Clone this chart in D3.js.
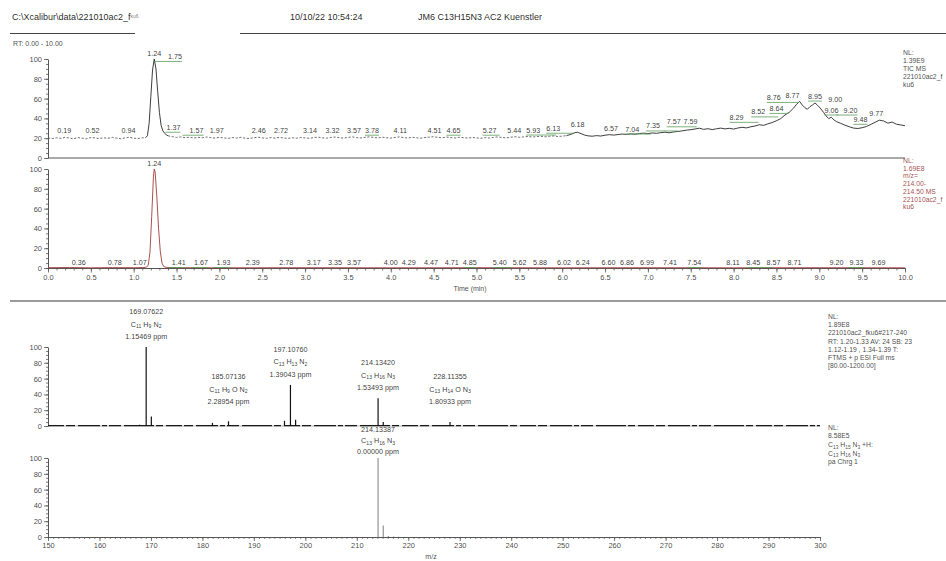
<!DOCTYPE html>
<html>
<head>
<meta charset="utf-8">
<script src="https://cdn.jsdelivr.net/npm/d3@7"></script>
<style>
  body { margin: 0; background: #fff; }
  svg { display: block; font-family: "Liberation Sans", Arial, sans-serif; }
  svg text { fill-opacity: 0.99; }
</style>
</head>
<body>
<svg id="chart" width="946" height="561"></svg>
<script>
// ---------------- Data ----------------
const rtTicks  = [0, 0.5, 1, 1.5, 2, 2.5, 3, 3.5, 4, 4.5, 5, 5.5, 6, 6.5, 7, 7.5, 8, 8.5, 9, 9.5, 10];
const pctTicks = [0, 20, 40, 60, 80, 100];
const mzTicks  = [150, 160, 170, 180, 190, 200, 210, 220, 230, 240, 250, 260, 270, 280, 290, 300];

// Total ion chromatogram [RT (min), relative abundance %]
const ticTrace = [
  [0.00,20.2],[0.05,19.6],[0.10,20.5],[0.15,19.8],[0.20,20.9],[0.25,20.1],[0.30,19.5],[0.35,20.6],
  [0.40,20.0],[0.45,19.4],[0.50,20.7],[0.55,20.2],[0.60,19.7],[0.65,20.4],[0.70,19.9],[0.75,20.8],
  [0.80,20.1],[0.85,19.5],[0.90,20.3],[0.95,20.9],[1.00,20.0],[1.05,19.6],[1.10,20.4],[1.14,20.6],
  [1.16,22.5],[1.18,35],[1.20,62],[1.22,89],[1.24,100],[1.26,90],[1.28,67],[1.30,46],[1.32,33],
  [1.34,27.5],[1.36,25],[1.38,23.5],[1.40,22.4],[1.45,21.6],[1.50,20.8],[1.55,21.3],[1.60,20.5],
  [1.65,21.0],[1.70,20.2],[1.75,20.9],[1.80,20.4],[1.85,21.2],[1.90,20.6],[1.95,20.1],[2.00,20.9],
  [2.05,20.3],[2.10,19.8],[2.15,20.6],[2.20,20.2],[2.25,20.9],[2.30,20.0],[2.35,19.7],[2.40,20.5],
  [2.45,21.0],[2.50,20.3],[2.55,19.9],[2.60,20.6],[2.65,20.1],[2.70,20.8],[2.75,20.2],[2.80,19.8],
  [2.85,20.5],[2.90,20.0],[2.95,20.7],[3.00,20.3],[3.05,19.9],[3.10,20.6],[3.15,21.1],[3.20,20.4],
  [3.25,20.0],[3.30,20.7],[3.35,21.2],[3.40,20.5],[3.45,20.1],[3.50,20.8],[3.55,21.3],[3.60,20.6],
  [3.65,20.2],[3.70,20.9],[3.75,21.4],[3.80,20.7],[3.85,20.3],[3.90,21.0],[3.95,20.5],[4.00,20.1],
  [4.05,20.8],[4.10,21.3],[4.15,20.6],[4.20,20.2],[4.25,20.9],[4.30,20.4],[4.35,20.0],[4.40,20.7],
  [4.45,21.1],[4.50,21.5],[4.55,20.8],[4.60,20.4],[4.65,21.2],[4.70,20.6],[4.75,20.2],[4.80,20.9],
  [4.85,20.5],[4.90,20.1],[4.95,20.7],[5.00,20.3],[5.05,19.9],[5.10,20.6],[5.15,20.2],[5.20,20.8],
  [5.25,21.3],[5.30,20.7],[5.35,20.3],[5.40,21.0],[5.45,21.5],[5.50,20.9],[5.55,21.3],[5.60,21.8],
  [5.65,21.2],[5.70,21.6],[5.75,22.0],[5.80,21.4],[5.85,21.9],[5.90,22.3],[5.95,21.7],[6.00,22.1],
  [6.05,22.6],[6.10,23.8],[6.15,25.6],[6.18,26.0],[6.22,24.6],[6.26,23.2],[6.30,22.4],[6.35,22.0],
  [6.40,22.6],[6.45,22.2],[6.50,23.0],[6.55,23.6],[6.60,23.1],[6.65,23.7],[6.70,24.2],[6.75,23.8],
  [6.80,24.4],[6.85,24.0],[6.90,24.7],[6.95,25.1],[7.00,24.6],[7.05,25.3],[7.10,24.9],[7.15,25.6],
  [7.20,26.1],[7.25,25.5],[7.30,26.3],[7.35,26.8],[7.40,27.4],[7.45,28.1],[7.50,28.6],[7.55,29.3],
  [7.60,30.1],[7.65,28.9],[7.70,29.6],[7.75,28.7],[7.80,29.5],[7.85,30.2],[7.90,29.4],[7.95,30.0],
  [8.00,29.2],[8.05,30.3],[8.10,31.0],[8.15,30.4],[8.20,31.5],[8.25,32.3],[8.30,33.6],[8.35,33.0],
  [8.40,34.5],[8.45,35.8],[8.50,37.6],[8.55,39.8],[8.60,43.5],[8.65,46.2],[8.70,50.4],[8.73,53.8],
  [8.77,57.2],[8.80,53.6],[8.83,51.0],[8.86,49.2],[8.89,51.8],[8.92,53.5],[8.95,55.6],[8.98,53.2],
  [9.01,50.5],[9.05,46.1],[9.08,42.4],[9.11,39.8],[9.14,41.2],[9.17,38.5],[9.20,36.8],[9.25,35.0],
  [9.30,33.1],[9.35,31.6],[9.40,30.2],[9.45,29.8],[9.50,30.6],[9.55,31.8],[9.60,33.9],[9.65,36.0],
  [9.70,38.2],[9.75,37.4],[9.80,35.2],[9.85,36.3],[9.90,34.1],[9.95,33.4],[10.00,32.6]
];

// Extracted ion chromatogram, m/z 214.00-214.50
const xicTrace = [
  [0.00,0.3],[0.25,0.5],[0.50,0.2],[0.75,0.4],[1.00,0.3],[1.12,0.5],[1.15,0.9],[1.17,3],
  [1.19,16],[1.21,52],[1.23,92],[1.24,100],[1.25,97],[1.27,72],[1.29,40],[1.31,17],[1.33,5],
  [1.35,1.5],[1.38,0.6],[1.50,0.3],[2.00,0.2],[3.00,0.3],[4.00,0.2],[5.00,0.3],[6.00,0.2],
  [7.00,0.3],[8.00,0.2],[9.00,0.3],[10.00,0.2]
];

// Peak labels [RT, apex abundance %]
const ticLabels = [
  [0.19,21],[0.52,21],[0.94,21],[1.24,99],[1.75,96],[1.37,24.5],[1.57,21.5],[1.97,21.5],
  [2.46,21.5],[2.72,21.5],[3.14,21.5],[3.32,21.5],[3.57,21.5],[3.78,21.5],[4.11,21.5],
  [4.51,21.5],[4.65,21.5],[5.27,21.5],[5.44,21.5],[5.93,21.7],[6.13,23.5],[6.18,26.8],
  [6.57,23.2],[7.04,22.7],[7.35,25.8],[7.57,30],[7.59,30],[8.29,34.5],[8.52,40],[8.64,43.5],
  [8.76,54.6],[8.77,57],[8.95,56],[9.00,52.6],[9.06,41.9],[9.20,41.9],[9.48,32.5],[9.77,38.5]
];
const xicLabels = [
  0.36,0.78,1.07,1.41,1.67,1.93,2.39,2.78,3.17,3.35,3.57,4.00,4.29,4.47,4.71,4.85,5.40,5.62,
  5.88,6.02,6.24,6.60,6.86,6.99,7.41,7.54,8.11,8.45,8.57,8.71,9.20,9.33,9.69
];
const xicLabels100 = [1.24];

// Averaged full-scan spectrum: annotated peaks
const annMz      = [169.07622, 185.07136, 197.10760, 214.13420, 228.11355];
const annInt     = [100, 6, 52, 35, 5];
const annFormula = ["C11 H9 N2", "C11 H9 O N2", "C13 H13 N2", "C13 H16 N3", "C13 H14 O N3"];
const annPpm     = [1.15469, 2.28954, 1.39043, 1.53493, 1.80933];
// other spectrum lines [m/z, %]
const minorPeaks = [[167.8,1.5],[170.08,12],[181.95,4],[195.95,6.5],[198.11,8],[215.14,5],[216.1,1]];

// Simulated isotope pattern for C13 H15 N3 +H
const thMz  = [214.13387, 215.13722, 216.14058, 217.1439, 218.147];
const thInt = [100, 14.5, 1.4, 0.6, 0.4];

// ---------------- Layout ----------------
const svg = d3.select("#chart");
const TXT = "#333";
const AX = "#555";
const GREEN = "#5a9e5a";

const xRT  = d3.scaleLinear().domain([0, 10]).range([48, 905]);
const yTic = d3.scaleLinear().domain([0, 100]).range([158, 59]);
const yXic = d3.scaleLinear().domain([0, 100]).range([268, 169]);
const xMz  = d3.scaleLinear().domain([150, 300]).range([48, 820]);
const yMs  = d3.scaleLinear().domain([0, 100]).range([426, 347]);
const yTh  = d3.scaleLinear().domain([0, 100]).range([537, 458]);

// label offsets in px where peak labels were pushed aside
const ticNudge = {"1.75":-23,"1.37":8,"1.57":14,"3.14":-7,"4.65":7,"5.27":-10,"5.93":-23,"6.13":-20,
  "7.04":-19,"7.35":-25,"7.57":-23,"7.59":-8,"8.29":-22,"8.52":-20,"8.64":-12,"8.76":-25,
  "8.77":-7,"9.00":16,"9.06":7,"9.20":14,"9.77":-9};
const ticLeader = ["1.75","1.37","1.57","3.78","4.65","5.27","5.93","6.13","7.04","7.35","7.57",
  "8.29","8.52","8.64","8.76","8.95","9.06","9.20","9.48"];
const leaderTarget = {"1.75": 1.24};
const xicNudge = {"1.41":10,"1.67":10,"1.93":10,"3.17":-6,"4.29":-7,"4.85":6,"5.40":-11,"5.62":-10,
  "5.88":-12,"6.60":-5,"6.86":-9,"7.41":-13,"8.11":-10,"8.45":-19,"8.57":-9,"9.33":9};
const xicLeader = ["1.41","1.67","1.93","4.85","5.40","7.54","8.45","9.33"];

function text(x, y, str, opts = {}) {
  return svg.append("text").attr("x", x).attr("y", y)
    .attr("font-size", opts.size || 7)
    .attr("fill", opts.color || TXT)
    .attr("text-anchor", opts.anchor || "start")
    .text(str);
}

function styleAxis(g, fs) {
  g.select(".domain").attr("stroke", AX).attr("stroke-width", 1);
  g.selectAll(".tick line").attr("stroke", AX).attr("stroke-width", 0.8);
  g.selectAll(".tick text").attr("fill", "#444").attr("font-size", fs)
    .attr("font-family", "Liberation Sans, Arial, sans-serif");
}

function pctAxis(y) {
  const g = svg.append("g").attr("transform", "translate(48,0)");
  g.append("g")
    .call(d3.axisLeft(y).tickValues(d3.range(0, 101, 5)).tickSize(2).tickFormat(""))
    .call(s => s.select(".domain").remove())
    .call(s => s.selectAll("line").attr("stroke", AX).attr("stroke-width", 0.8));
  g.append("g")
    .call(d3.axisLeft(y).tickValues(pctTicks).tickSize(4).tickSizeOuter(0).tickPadding(2))
    .call(s => styleAxis(s, 7.5));
}

function formulaText(x, y, str, size, anchor, color) {
  const t = svg.append("text").attr("x", x).attr("y", y).attr("font-size", size)
    .attr("fill", color || TXT).attr("text-anchor", anchor || "middle");
  let shifted = 0;
  str.split(" ").forEach((tok, i) => {
    const m = tok.match(/^([^\d]+)(\d*)$/);
    t.append("tspan").attr("dy", -shifted).text((i ? " " : "") + m[1]);
    shifted = 0;
    if (m[2]) {
      t.append("tspan").attr("dy", 1.6).attr("font-size", size * 0.72).text(m[2]);
      shifted = 1.6;
    }
  });
  return t;
}

function block(x, y0, lh, lines, color) {
  lines.forEach((s, i) => text(x, y0 + i * lh, s, {size: 6.8, color}));
}

// ---------------- Header ----------------
const hdr = svg.append("text").attr("x", 12).attr("y", 20).attr("font-size", 9).attr("fill", "#222");
hdr.append("tspan").text("C:\\Xcalibur\\data\\221010ac2_f");
hdr.append("tspan").attr("font-size", 5).attr("dy", -2.5).attr("fill", "#777").text("ku6");
text(290, 20, "10/10/22 10:54:24", {size: 9, color: "#222"});
text(418, 20, "JM6 C13H15N3 AC2 Kuenstler", {size: 9, color: "#222"});
svg.append("line").attr("x1", 10).attr("x2", 135).attr("y1", 33.5).attr("y2", 33.5).attr("stroke", "#444");
svg.append("line").attr("x1", 240).attr("x2", 946).attr("y1", 33.5).attr("y2", 33.5).attr("stroke", "#444");
text(13, 46, "RT: 0.00 - 10.00", {size: 7, color: "#444"});

// ---------------- TIC panel ----------------
pctAxis(yTic);
svg.append("line").attr("x1", 48).attr("x2", 905).attr("y1", yTic(0)).attr("y2", yTic(0))
  .attr("stroke", AX).attr("stroke-width", 1);

const ticLine = d3.line().x(d => xRT(d[0])).y(d => yTic(d[1]));
// noisy flat stretches print broken; peak and late gradient print solid
const ticSegments = [
  {from: 0, to: 1.14, dash: "2.2,1.6"},
  {from: 1.14, to: 1.40, dash: null},
  {from: 1.40, to: 6.05, dash: "2.2,1.6"},
  {from: 6.05, to: 10, dash: null}
];
ticSegments.forEach(s => {
  svg.append("path")
    .datum(ticTrace.filter(d => d[0] >= s.from && d[0] <= s.to))
    .attr("d", ticLine).attr("fill", "none")
    .attr("stroke", s.dash ? "#555" : "#1a1a1a").attr("stroke-width", 0.85)
    .attr("stroke-dasharray", s.dash);
});

function peakLabels(labels, yScale, nudge, leaders, gap) {
  labels.forEach(([rt, lvl]) => {
    const key = rt.toFixed(2);
    const px = xRT(leaderTarget[key] !== undefined ? leaderTarget[key] : rt);
    const lx = xRT(rt) + (nudge[key] || 0);
    const by = yScale(lvl) - gap;
    if (leaders.includes(key)) {
      let x1 = lx - 7, x2 = lx + 7;
      if (px > lx + 2) x2 = px; else if (px < lx - 2) x1 = px;
      svg.append("line").attr("x1", x1).attr("x2", x2).attr("y1", by + 2.5).attr("y2", by + 2.5)
        .attr("stroke", GREEN).attr("stroke-width", 0.8);
    }
    text(lx, by, key, {size: 7.2, anchor: "middle", color: "#333"});
  });
}
peakLabels(ticLabels, yTic, ticNudge, ticLeader, 4);

block(903, 55, 8, ["NL:", "1.39E9", "TIC  MS", "221010ac2_f", "ku6"], "#444");

// ---------------- XIC panel ----------------
pctAxis(yXic);
const xg = svg.append("g").attr("transform", `translate(0,${yXic(0)})`);
xg.append("g")
  .call(d3.axisBottom(xRT).tickValues(d3.range(0, 10.001, 0.1)).tickSize(2.5).tickFormat(""))
  .call(s => s.select(".domain").remove())
  .call(s => s.selectAll("line").attr("stroke", AX).attr("stroke-width", 0.8));
xg.append("g")
  .call(d3.axisBottom(xRT).tickValues(rtTicks).tickSize(4.5).tickSizeOuter(0).tickPadding(2)
    .tickFormat(d3.format(".1f")))
  .call(s => styleAxis(s, 7.5));
text(470, 291, "Time (min)", {size: 7, anchor: "middle", color: "#444"});

svg.append("path").datum(xicTrace)
  .attr("d", d3.line().x(d => xRT(d[0])).y(d => yXic(d[1])))
  .attr("fill", "none").attr("stroke", "#a03c3c").attr("stroke-width", 0.9);

peakLabels(xicLabels.map(v => [v, 0]), yXic, xicNudge, xicLeader, 3);
peakLabels(xicLabels100.map(v => [v, 99]), yXic, {}, [], 4);

block(903, 163, 7.7, ["NL:", "1.69E8", "m/z=", "214.00-", "214.50  MS", "221010ac2_f", "ku6"], "#a04545");

// ---------------- divider ----------------
svg.append("line").attr("x1", 10).attr("x2", 946).attr("y1", 301).attr("y2", 301)
  .attr("stroke", "#9a9a9a").attr("stroke-width", 2);

// ---------------- Spectrum panel ----------------
pctAxis(yMs);
svg.append("line").attr("x1", xMz(150)).attr("x2", xMz(300)).attr("y1", yMs(0)).attr("y2", yMs(0))
  .attr("stroke", "#999").attr("stroke-width", 0.7);
svg.append("line").attr("x1", xMz(150)).attr("x2", xMz(300)).attr("y1", yMs(0) - 0.3).attr("y2", yMs(0) - 0.3)
  .attr("stroke", "#1a1a1a").attr("stroke-width", 1.3)
  .attr("stroke-dasharray", "16,2,9,3,22,2,5,2,12,3,30,2,7,3");

const msLines = minorPeaks.concat(annMz.map((m, i) => [m, annInt[i]]));
svg.append("g").selectAll("line").data(msLines).join("line")
  .attr("x1", d => xMz(d[0])).attr("x2", d => xMz(d[0]))
  .attr("y1", yMs(0)).attr("y2", d => yMs(d[1]))
  .attr("stroke", "#111").attr("stroke-width", 1.2);

// three-line annotations; labels of small peaks sit on a common floor
annMz.forEach((m, i) => {
  const x = xMz(m);
  const base = Math.min(yMs(annInt[i]) - 8, 404);
  text(x, base - 25, d3.format(".5f")(m), {size: 7.2, anchor: "middle"});
  formulaText(x, base - 12.5, annFormula[i], 7.2, "middle");
  text(x, base, d3.format(".5f")(annPpm[i]) + " ppm", {size: 7.2, anchor: "middle"});
});

block(828, 319, 8.2, ["NL:", "1.89E8", "221010ac2_fku6#217-240", "RT: 1.20-1.33  AV: 24  SB: 23",
  "1.12-1.19 , 1.34-1.39  T:", "FTMS + p ESI Full ms", "[80.00-1200.00]"], "#444");

// ---------------- Simulated pattern panel ----------------
pctAxis(yTh);
const mg = svg.append("g").attr("transform", `translate(0,${yTh(0)})`);
mg.append("g")
  .call(d3.axisBottom(xMz).tickValues(d3.range(150, 300.5, 1)).tickSize(2).tickFormat(""))
  .call(s => s.select(".domain").remove())
  .call(s => s.selectAll("line").attr("stroke", AX).attr("stroke-width", 0.7));
mg.append("g")
  .call(d3.axisBottom(xMz).tickValues(mzTicks).tickSize(4).tickSizeOuter(0).tickPadding(2))
  .call(s => styleAxis(s, 7.5));
text(431, 559, "m/z", {size: 7, anchor: "middle", color: "#444"});

svg.append("g").selectAll("line").data(thMz).join("line")
  .attr("x1", d => xMz(d)).attr("x2", d => xMz(d))
  .attr("y1", yTh(0)).attr("y2", (d, i) => yTh(thInt[i]))
  .attr("stroke", "#8a8a8a").attr("stroke-width", 1.1);

{
  const x = xMz(thMz[0]);
  const base = yTh(thInt[0]) - 4;
  text(x, base - 22, d3.format(".5f")(thMz[0]), {size: 7.2, anchor: "middle"});
  formulaText(x, base - 11, "C13 H16 N3", 7.2, "middle");
  text(x, base, "0.00000 ppm", {size: 7.2, anchor: "middle"});
}

text(828, 430, "NL:", {size: 6.8, color: "#444"});
text(828, 438, "8.58E5", {size: 6.8, color: "#444"});
formulaText(828, 447, "C13 H15 N3 +H:", 6.8, "start", "#444");
formulaText(828, 455.5, "C13 H16 N3", 6.8, "start", "#444");
text(828, 464, "pa Chrg 1", {size: 6.8, color: "#444"});
</script>
</body>
</html>
